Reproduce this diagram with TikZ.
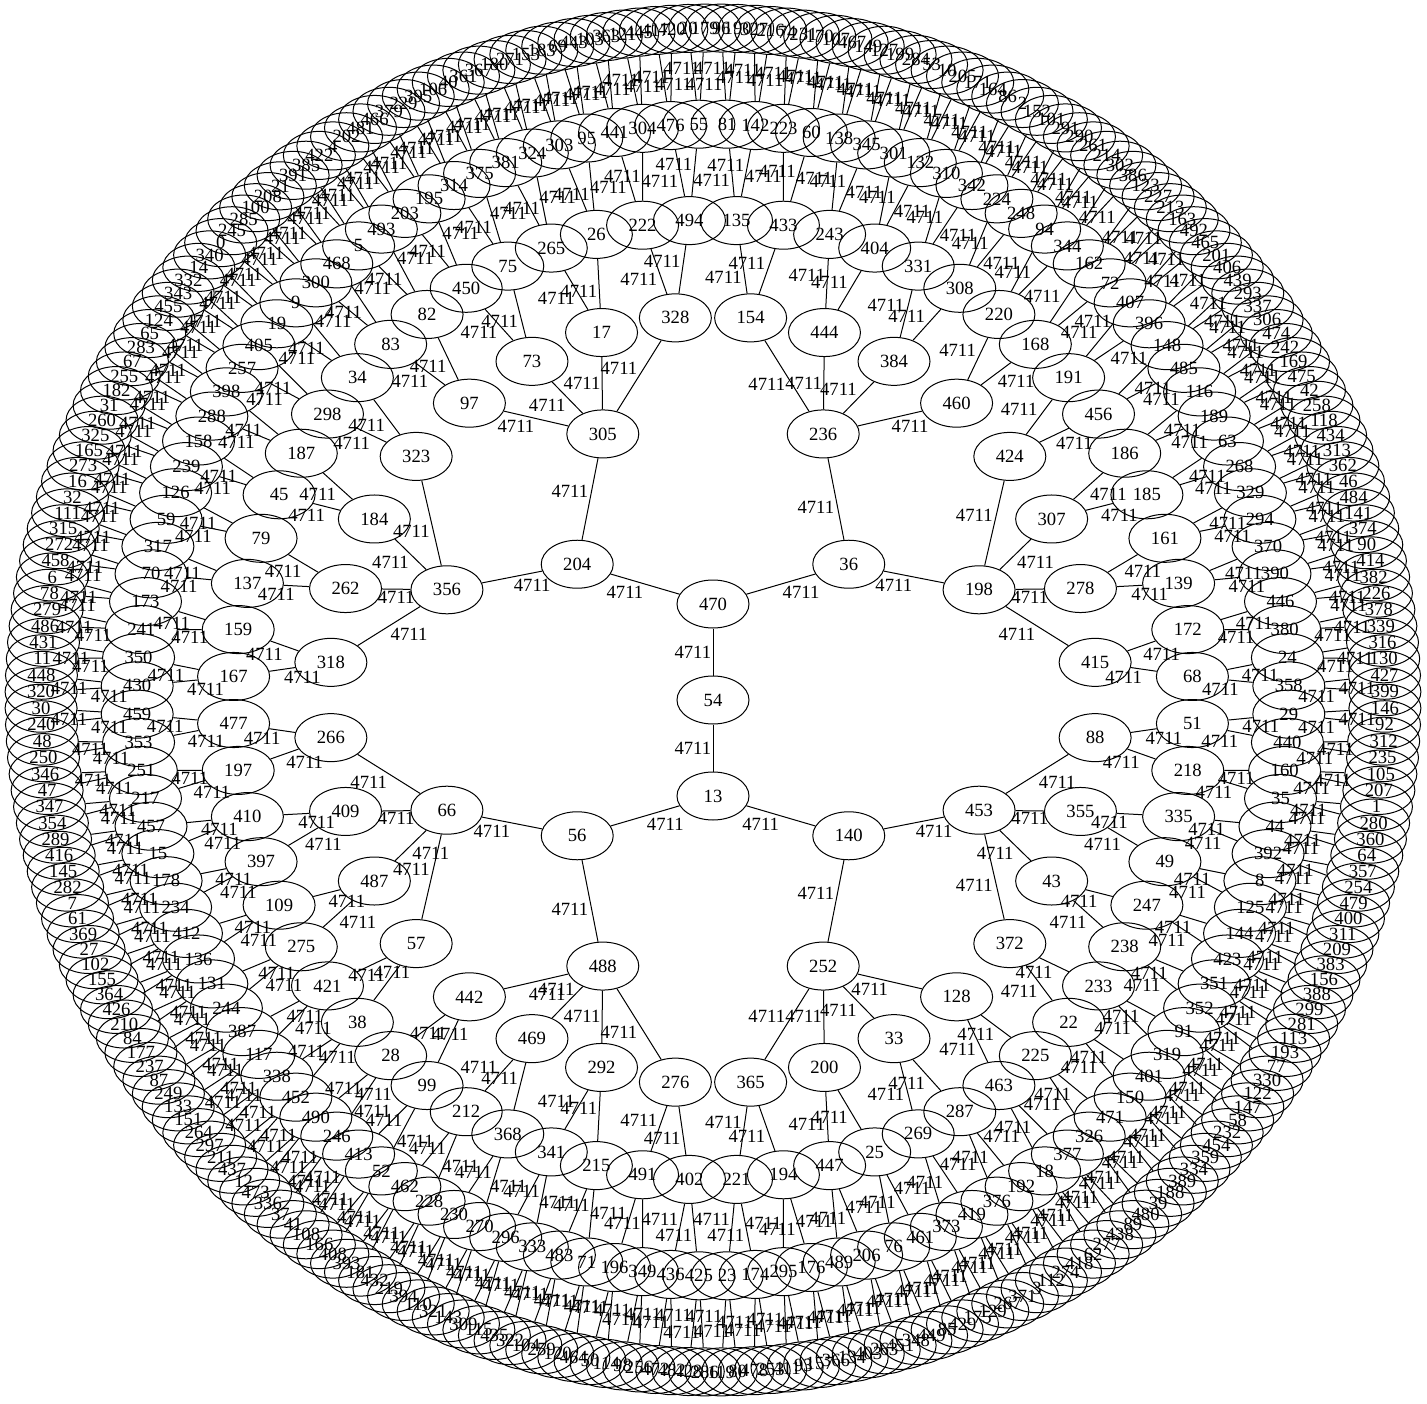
\documentclass[tikz,border=0pt]{standalone}
\usepackage{fontspec}
\setmainfont{Liberation Serif}
\usetikzlibrary{shapes.geometric}

\begin{document}
\begin{tikzpicture}[
    x=1pt, y=1pt,
    % Csúcsok: üres ellipszisek
    csucs/.style={
        draw, ellipse, line width=0.75pt,
        minimum width=54pt, minimum height=36pt, inner sep=0pt,
        font=\fontsize{14}{16}\selectfont
    },
    % Élek és a súlyuk
    el/.style={line width=0.75pt},
    suly/.style={midway, inner sep=1pt, font=\fontsize{14}{16}\selectfont}
]

    \useasboundingbox (-534.75,-527.25) rectangle (535.5,525);

    % 0. szint: középpont
    \node[csucs] (s0-0) at (0,0) {54};

    % 1-4. szint (szintenként 72pt)
    \foreach \c [count=\i from 0] in {470,13}
        \node[csucs] (s1-\i) at ({(\i+0.5)*180}:72) {\c};
    \foreach \c [count=\i from 0] in {36,204,56,140}
        \node[csucs] (s2-\i) at ({(\i+0.5)*90}:144) {\c};
    \foreach \c [count=\i from 0] in {198,236,305,356,66,488,252,453}
        \node[csucs] (s3-\i) at ({(\i+0.5)*45}:216) {\c};
    \foreach \c [count=\i from 0] in {415,278,307,424,460,384,444,154,328,17,73,97,323,184,262,318,
        266,409,487,57,442,469,292,276,365,200,33,128,372,43,355,88}
        \node[csucs] (s4-\i) at ({(\i+0.5)*11.25}:288) {\c};

    % 5. szint
    \foreach \c [count=\i from 0] in {68,172,139,161,185,186,456,191,168,220,308,331,404,243,433,135,
        494,222,26,265,75,450,82,83,34,298,187,45,79,137,159,167,
        477,197,410,397,109,275,421,38,28,99,212,368,341,215,491,402,
        221,194,447,25,269,287,463,225,22,233,238,247,49,335,218,51}
        \node[csucs] (s5-\i) at ({(\i+0.5)*5.625}:360) {\c};

    % 6. szint
    \foreach \c [count=\i from 0] in {358,24,380,446,390,370,294,329,268,63,189,116,485,148,396,407,
        72,162,344,94,248,224,342,310,132,301,345,138,60,223,142,81,
        55,476,304,441,95,303,324,381,375,314,195,203,493,5,468,300,
        9,19,405,257,398,288,158,239,126,59,317,70,173,241,350,430,
        459,353,251,217,457,15,178,234,412,136,131,244,387,117,338,452,
        490,246,413,52,462,228,230,270,296,333,483,71,196,349,436,425,
        23,174,295,176,489,206,76,461,373,419,376,192,18,377,326,471,
        150,401,319,91,352,351,423,144,125,8,392,44,35,160,440,29}
        \node[csucs] (s6-\i) at ({(\i+0.5)*2.8125}:432) {\c};

    % 7. szint: külső gyűrű
    \foreach \c [count=\i from 0] in {399,427,130,316,339,378,226,382,414,90,
        374,141,484,46,362,313,434,118,258,42,
        475,169,242,474,306,337,293,439,406,201,
        465,492,163,213,227,123,386,302,214,261,
        290,291,101,152,2,86,164,171,205,10,
        53,284,199,127,149,467,107,170,231,74,
        216,327,190,96,179,20,420,417,445,121,
        363,103,443,69,183,153,271,180,367,361,
        40,106,395,229,379,466,481,202,4,422,
        385,391,21,208,100,285,245,0,340,14,
        332,343,455,124,65,283,67,255,182,31,
        260,325,165,273,16,32,111,315,272,458,
        6,78,279,486,431,11,448,320,30,240,
        48,250,346,47,347,354,289,416,145,282,
        7,61,369,27,102,155,364,426,210,84,
        177,237,87,249,133,151,264,297,211,437,
        12,473,336,37,41,108,166,408,393,181,
        432,219,394,110,321,143,309,115,435,322,
        104,259,120,464,50,114,98,256,472,482,
        428,286,119,80,478,253,411,93,157,366,
        134,403,263,451,348,449,85,429,175,129,
        267,371,3,112,274,418,62,277,438,89,
        480,39,188,389,334,359,454,232,58,147,
        122,330,77,193,113,281,299,388,156,383,
        209,311,400,479,254,357,64,360,280,1,
        207,105,235,312,92,146}
        \node[csucs] (s7-\i) at ({(\i+0.5)*1.40625}:504) {\c};

    % Élek: szint / utolsó index / elágazás / szögköz (gyerek, szülő)
    % a súly mindig az él bal-alsó oldalára kerül
    \foreach \szint/\utolso/\ag/\gyszog/\szszog in {1/1/2/180/360, 2/3/2/90/180, 3/7/2/45/90,
        4/31/4/11.25/45, 5/63/2/5.625/11.25, 6/127/2/2.8125/5.625, 7/255/2/1.40625/2.8125} {
        \pgfmathtruncatemacro{\felso}{\szint-1}
        \foreach \i in {0,...,\utolso} {
            \pgfmathtruncatemacro{\szulo}{\i/\ag}
            \pgfmathsetmacro{\gyt}{(\i+0.5)*\gyszog}
            \pgfmathsetmacro{\szt}{(\szulo+0.5)*\szszog}
            \pgfmathtruncatemacro{\oldal}{((\szint*sin(\gyt)-\felso*sin(\szt))-(\szint*cos(\gyt)-\felso*cos(\szt))) > 0}
            \ifnum\oldal=1 \def\hol{left}\else\def\hol{right}\fi
            \draw[el] (s\felso-\szulo) -- (s\szint-\i) node[suly, auto=\hol] {4711};
        }
    }
\end{tikzpicture}
\end{document}
